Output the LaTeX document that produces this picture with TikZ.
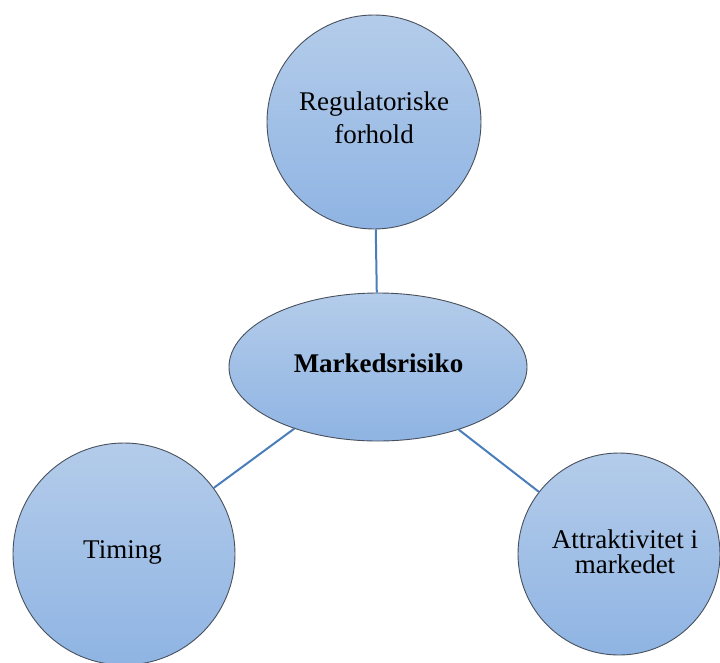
\documentclass[tikz,border=0pt]{standalone}
\usepackage{fontspec}
\setmainfont{Liberation Serif}
\usetikzlibrary{shapes.geometric}
\definecolor{bubbletop}{RGB}{180,204,234}
\definecolor{bubblebot}{RGB}{143,180,227}
\definecolor{bubbleedge}{RGB}{72,80,92}
\definecolor{linkblue}{RGB}{74,126,187}
\begin{document}
\begin{tikzpicture}[x=1pt,y=-1pt,
  bubble/.style={draw=bubbleedge, line width=0.9pt, top color=bubbletop,
    bottom color=bubblebot, inner sep=0pt},
  roundbubble/.style={bubble, circle},
  ovalbubble/.style={bubble, ellipse},
  link/.style={draw=linkblue, line width=2pt},
  caption/.style={anchor=base, inner sep=0pt, font=\fontsize{27}{33}\selectfont}]
\useasboundingbox (0,0) rectangle (720,662);

% shapes
\node[roundbubble, minimum size=214pt] (reg) at (374,122) {};
\node[ovalbubble, minimum width=298pt, minimum height=148pt] (mr) at (378,367) {};
\node[roundbubble, minimum size=222pt] (tim) at (124,554) {};
\node[roundbubble, minimum size=202pt] (att) at (619,554) {};

% connectors
\path[link] (reg) -- (mr);
\path[link] (mr) -- (tim);
\path[link] (mr) -- (att);

% texts
\node[caption] (regA) at (374,110) {Regulatoriske};
\node[caption] (regB) at (374,143) {forhold};
\node[caption] (mrT) at (378.5,372) {\bfseries Markedsrisiko};
\node[caption] (timT) at (122.5,558) {Timing};
\node[caption] (attA) at (625,548) {Attraktivitet i};
\node[caption] (attB) at (625,573) {markedet};
\end{tikzpicture}
\end{document}
